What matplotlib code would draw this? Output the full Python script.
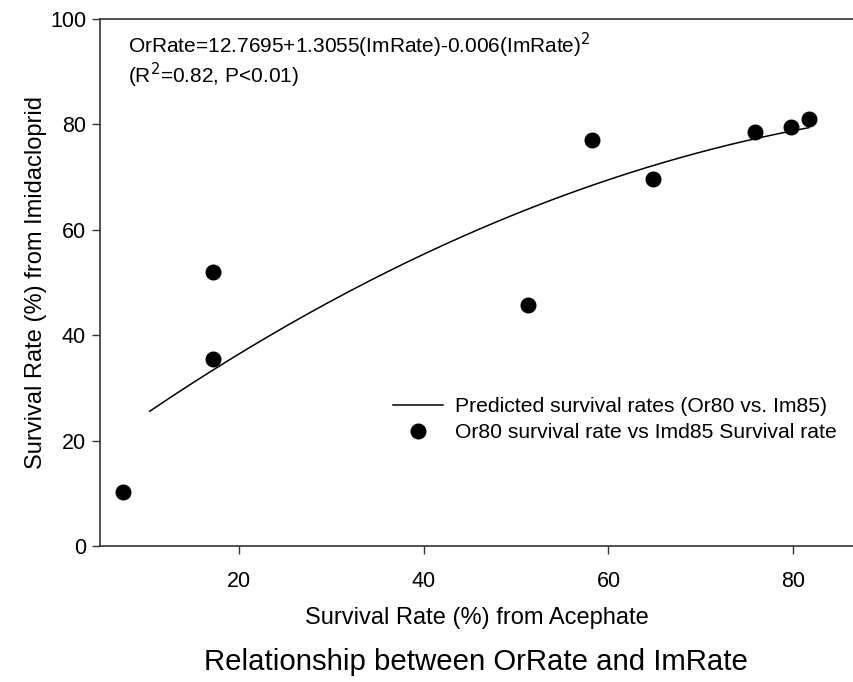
import matplotlib.pyplot as plt
import numpy as np

plt.rcParams["font.family"] = ["Liberation Sans", "DejaVu Sans"]

# survival rates (%) per population: acephate (x) vs imidacloprid (y)
acephate = [7.4, 17.2, 17.2, 51.3, 58.2, 64.8, 75.9, 79.8, 81.7]
imidacloprid = [10.2, 52.0, 35.4, 45.7, 77.1, 69.7, 78.5, 79.5, 81.0]

# quadratic fit coefficients
b0, b1, b2 = 12.7695, 1.3055, -0.006
fit_start, fit_end = 10.3, 81.7

x_ticks = [20, 40, 60, 80]
y_ticks = [0, 20, 40, 60, 80, 100]

fig = plt.figure(figsize=(8.54, 6.82), dpi=100)
ax = fig.add_axes([0.117, 0.1994, 0.883, 0.7727])

xs = np.linspace(fit_start, fit_end, 200)
ax.plot(xs, b0 + b1 * xs + b2 * xs ** 2, color="black", lw=1.1,
        label="Predicted survival rates (Or80 vs. Im85)")
ax.plot(acephate, imidacloprid, "o", color="black", ms=10.5, ls="none",
        label="Or80 survival rate vs Imd85 Survival rate")

ax.set_xlim(4.9, 86.6)
ax.set_ylim(0, 100)
ax.set_xticks(x_ticks)
ax.set_yticks(y_ticks)
ax.tick_params(labelsize=15.5, length=6, width=1, color="#333333")
ax.tick_params(axis="x", pad=12)
ax.tick_params(axis="y", pad=4)
ax.spines["right"].set_visible(False)
for side in ["left", "bottom", "top"]:
    ax.spines[side].set_color("#333333")
    ax.spines[side].set_linewidth(1.2)

ax.set_xlabel("Survival Rate (%) from Acephate", fontsize=17)
ax.set_ylabel("Survival Rate (%) from Imidacloprid", fontsize=17)
ax.xaxis.set_label_coords(0.5, -0.115)
ax.yaxis.set_label_coords(-0.07, 0.5)

ax.text(0.037, 0.935, "OrRate=12.7695+1.3055(ImRate)-0.006(ImRate)$^2$",
        transform=ax.transAxes, fontsize=15, va="baseline")
ax.text(0.037, 0.878, "(R$^2$=0.82, P<0.01)",
        transform=ax.transAxes, fontsize=15, va="baseline")

ax.legend(loc="upper left", bbox_to_anchor=(0.364, 0.318), frameon=False, fontsize=15.2,
          handlelength=2.35, handletextpad=0.56, labelspacing=0.33, borderpad=0.4)

fig.text(0.557, 0.03, "Relationship between OrRate and ImRate", fontsize=21.2,
         ha="center", va="center")

fig.savefig("out.png", dpi=100)
